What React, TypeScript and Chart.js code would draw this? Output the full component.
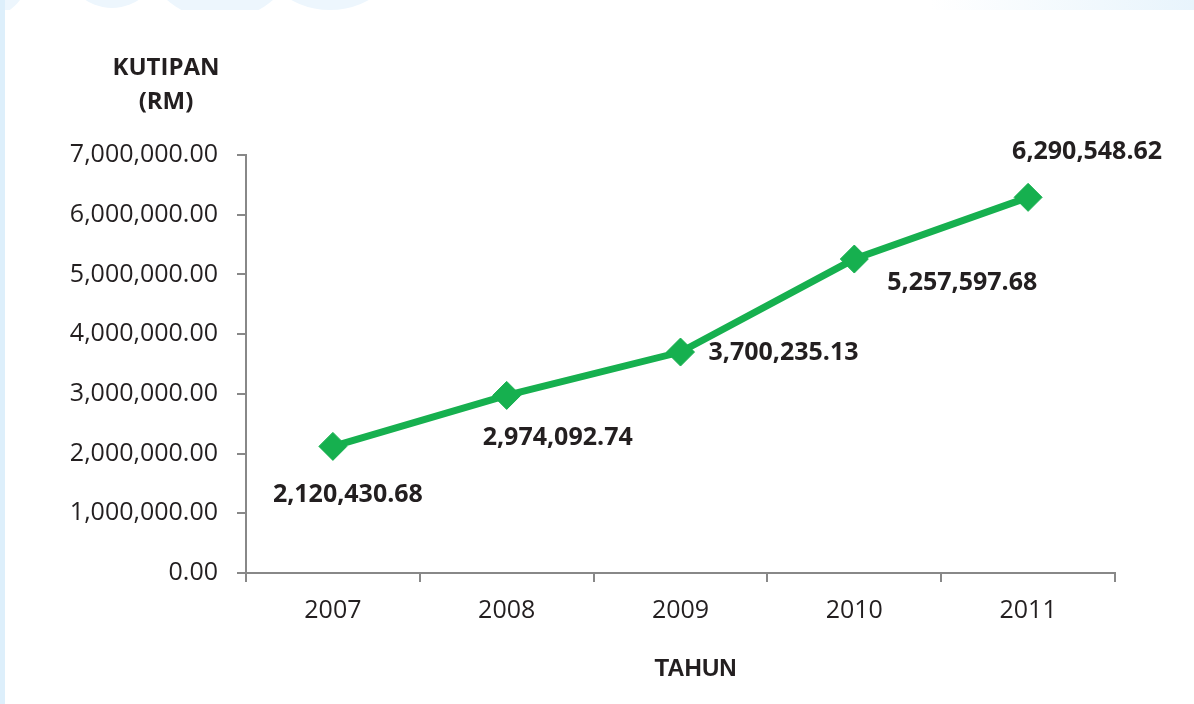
import React, { useEffect, useRef } from "react";
import { Chart, registerables } from "chart.js";

Chart.register(...registerables);

const years: string[] = ["2007", "2008", "2009", "2010", "2011"];
const kutipan: number[] = [2120430.68, 2974092.74, 3700235.13, 5257597.68, 6290548.62];
const yTickMin = 0;
const yTickMax = 7000000;
const yTickStep = 1000000;

// label placement relative to each point: [dx, dy, align]
const labelPlacement: [number, number, CanvasTextAlign][] = [
  [15, 48, "center"],
  [51, 42, "center"],
  [28, 1, "left"],
  [33, 24, "left"],
  [59, -45, "center"],
];

const fmt = (v: number) =>
  v.toLocaleString("en-US", { minimumFractionDigits: 2, maximumFractionDigits: 2 });

const GREEN = "#16b04f";
const AXIS = "#888888";
const TEXT = "#231f20";

const bgPlugin = {
  id: "bgDeco",
  beforeDraw(chart: any) {
    const ctx = chart.ctx;
    ctx.save();
    ctx.fillStyle = "#ffffff";
    ctx.fillRect(0, 0, chart.width, chart.height);
    // faint watermark remnants on the top and left edges
    ctx.beginPath();
    ctx.rect(0, 0, chart.width, 10);
    ctx.rect(0, 0, 5, chart.height);
    ctx.clip();
    ctx.fillStyle = "#edf6fd";
    const circles: [number, number, number][] = [
      [-20, -30, 50], [112, -40, 48], [220, -60, 80], [330, -70, 80],
    ];
    circles.forEach(([x, y, r]) => {
      ctx.beginPath();
      ctx.arc(x, y, r, 0, Math.PI * 2);
      ctx.fill();
    });
    const g = ctx.createLinearGradient(930, 0, 1194, 0);
    g.addColorStop(0, "rgba(232,244,252,0)");
    g.addColorStop(1, "rgba(232,244,252,1)");
    ctx.fillStyle = g;
    ctx.fillRect(930, 0, 264, 10);
    ctx.fillStyle = "#ddeffb";
    ctx.fillRect(0, 0, 5, chart.height);
    ctx.restore();
  },
};

const textPlugin = {
  id: "textDeco",
  afterDatasetsDraw(chart: any) {
    const ctx = chart.ctx;
    const meta = chart.getDatasetMeta(0);
    ctx.save();
    ctx.fillStyle = TEXT;
    ctx.textBaseline = "middle";
    ctx.font = "bold 25px 'Open Sans'";
    meta.data.forEach((pt: any, i: number) => {
      const [dx, dy, align] = labelPlacement[i];
      ctx.textAlign = align;
      ctx.fillText(fmt(kutipan[i]), pt.x + dx, pt.y + dy);
    });
    // axis titles
    const yScale = chart.scales.y;
    const xScale = chart.scales.x;
    ctx.textAlign = "center";
    ctx.font = "bold 24px 'Open Sans'";
    ctx.fillText("KUTIPAN", yScale.right - 80, 68);
    ctx.fillText("(RM)", yScale.right - 80, 102);
    ctx.font = "bold 24px 'Liberation Sans', Arial";
    ctx.fillText("TAHUN", (xScale.left + xScale.right) / 2 + 15, 669);
    ctx.restore();
  },
};

export default function App() {
  const ref = useRef<HTMLCanvasElement | null>(null);
  useEffect(() => {
    document.body.style.margin = "0";
    const canvas = ref.current!;
    const chart = new Chart(canvas, {
      type: "line",
      data: {
        labels: years,
        datasets: [
          {
            data: kutipan,
            borderColor: GREEN,
            backgroundColor: GREEN,
            borderWidth: 7,
            tension: 0,
            pointStyle: "rectRot",
            pointRadius: 14,
            pointBorderWidth: 1,
            pointBackgroundColor: GREEN,
            pointBorderColor: GREEN,
            clip: false as any,
          },
        ],
      },
      options: {
        animation: false,
        responsive: false,
        devicePixelRatio: 1,
        layout: { padding: { top: 155, right: 79, left: 0, bottom: 0 } },
        plugins: {
          legend: { display: false },
          tooltip: { enabled: false },
          title: { display: false },
        },
        scales: {
          x: {
            type: "category",
            offset: true,
            grid: {
              offset: true,
              drawOnChartArea: false,
              drawTicks: true,
              tickLength: 9,
              color: AXIS,
              lineWidth: 2,
            },
            border: { display: true, color: AXIS, width: 2 },
            ticks: {
              color: TEXT,
              padding: 14,
              font: { family: "'Open Sans'", size: 25 },
              maxRotation: 0,
            },
            afterFit: (s: any) => {
              s.height = 704 - 573;
            },
          },
          y: {
            min: yTickMin,
            max: yTickMax,
            ticks: {
              stepSize: yTickStep,
              color: TEXT,
              padding: 19,
              font: { family: "'Open Sans'", size: 25 },
              callback: (v: any) => fmt(Number(v)),
            },
            grid: {
              drawOnChartArea: false,
              drawTicks: true,
              tickLength: 9,
              color: AXIS,
              lineWidth: 2,
            },
            border: { display: true, color: AXIS, width: 2 },
            afterFit: (s: any) => {
              s.width = 246;
            },
          },
        },
      },
      plugins: [bgPlugin, textPlugin],
    });
    return () => chart.destroy();
  }, []);
  return (
    <div style={{ width: 1194, height: 704 }}>
      <canvas ref={ref} width={1194} height={704} style={{ display: "block" }} />
    </div>
  );
}
